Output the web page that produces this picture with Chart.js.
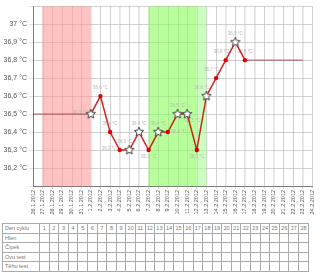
<!DOCTYPE html>
<html>
<head>
<meta charset="utf-8">
<script src="https://cdn.jsdelivr.net/npm/chart.js@4/dist/chart.umd.min.js"></script>
<style>
    body { margin: 0; background: #fff; width: 320px; height: 274px; overflow: hidden; position: relative; }
    #wrap { position: absolute; left: 0; top: 0; width: 320px; height: 220px; }
    table { position: absolute; left: 2px; top: 223px; width: 307px; border-collapse: collapse; font-family: "Liberation Sans", Arial, sans-serif; font-size: 5.5px; color: #777; table-layout: fixed; }
    td { border: 1px solid #aaa; height: 8.5px; padding: 0; overflow: hidden; white-space: nowrap; text-align: center; line-height: 8px; }
    td.name { text-align: left; padding-left: 2px; }
</style>
</head>
<body>
<div id="wrap"><canvas id="TempChart" width="320" height="220"></canvas></div>
<table id="cycle"><colgroup id="cols"></colgroup></table>
<script>
// -------------------------    Data    -------------------------

var dates = ['26.1.2012', '27.1.2012', '28.1.2012', '29.1.2012', '30.1.2012', '31.1.2012',
    '1.2.2012', '2.2.2012', '3.2.2012', '4.2.2012', '5.2.2012', '6.2.2012', '7.2.2012', '8.2.2012',
    '9.2.2012', '10.2.2012', '11.2.2012', '12.2.2012', '13.2.2012', '14.2.2012', '15.2.2012',
    '16.2.2012', '17.2.2012', '18.2.2012', '19.2.2012', '20.2.2012', '21.2.2012', '22.2.2012',
    '23.2.2012', '24.2.2012'];

var temps = [null, null, null, null, null, null,
    36.5, 36.6, 36.4, 36.3, 36.3, 36.4, 36.3, 36.4, 36.4, 36.5, 36.5, 36.3, 36.6, 36.7, 36.8, 36.9, 36.8,
    null, null, null, null, null, null, null];

// true = star marker, false = red dot
var starred = [false, false, false, false, false, false,
    true, false, false, false, true, true, false, true, false, true, true, false, true, false, false, true, false,
    false, false, false, false, false, false, false];

var lowLine = [36.5, 36.5, 36.5, 36.5, 36.5, 36.5, 36.5,
    null, null, null, null, null, null, null, null, null, null, null, null, null, null, null, null,
    null, null, null, null, null, null, null];

var highLine = [null, null, null, null, null, null, null, null, null, null, null, null, null, null, null,
    null, null, null, null, null, null, null,
    36.8, 36.8, 36.8, 36.8, 36.8, 36.8, 36.8, null];

// bands as [from index, to index]
var periodBand = [1, 6];
var fertileBand = [12, 17];
var fertileEndBand = [17, 18];

var cycleRows = ['Den cyklu', 'Hlen', 'Čípek', 'Ovu test', 'Těhu test'];
var cycleDays = 28;

// where the value label sits next to each point
var labelPos = ['t', 't', 't', 't', 't', 't',
    'l', 't', 't', 'l', 'tl', 't', 'b', 't', 'r', 't', 'br', 'b', 'tl', 'tl', 'tl', 't', 't',
    't', 't', 't', 't', 't', 't', 't'];


// -------------------------    Helpers    -------------------------

function fmt(v) {
    return String(Math.round(v * 10) / 10).replace('.', ',') + ' °C';
}

function makeStar(r) {
    var c = document.createElement('canvas');
    c.width = c.height = r * 2 + 2;
    var g = c.getContext('2d');
    g.beginPath();
    for (var i = 0; i < 10; i++) {
        var rr = (i % 2 === 0) ? r : r * 0.45;
        var a = -Math.PI / 2 + i * Math.PI / 5;
        var px = r + 1 + rr * Math.cos(a);
        var py = r + 1 + rr * Math.sin(a);
        if (i === 0) g.moveTo(px, py); else g.lineTo(px, py);
    }
    g.closePath();
    g.fillStyle = '#fff';
    g.fill();
    g.lineWidth = 1;
    g.strokeStyle = '#444';
    g.stroke();
    return c;
}

var starImg = makeStar(5);


// -------------------------    Plugins    -------------------------

var bandsPlugin = {
    id: 'bands',
    beforeDatasetsDraw: function (chart) {
        var ctx = chart.ctx, x = chart.scales.x, area = chart.chartArea;
        var bands = [[periodBand, '#ffc2c2'], [fertileBand, '#b8ff9c'], [fertileEndBand, '#cbffc0']];
        ctx.save();
        bands.forEach(function (b) {
            var x0 = x.getPixelForValue(b[0][0]);
            var x1 = x.getPixelForValue(b[0][1]);
            ctx.fillStyle = b[1];
            ctx.fillRect(x0, area.top, x1 - x0, area.bottom - area.top);
        });
        // redraw grid lines faintly over the bands
        ctx.strokeStyle = 'rgba(0,0,0,0.08)';
        ctx.lineWidth = 1;
        x.ticks.forEach(function (t, i) {
            var px = Math.round(x.getPixelForValue(i)) + 0.5;
            ctx.beginPath();
            ctx.moveTo(px, area.top);
            ctx.lineTo(px, area.bottom);
            ctx.stroke();
        });
        chart.scales.y.ticks.forEach(function (t) {
            var py = Math.round(chart.scales.y.getPixelForValue(t.value)) + 0.5;
            ctx.beginPath();
            ctx.moveTo(area.left, py);
            ctx.lineTo(area.right, py);
            ctx.stroke();
        });

        // value labels
        var meta = chart.getDatasetMeta(0);
        ctx.font = '4.5px "Liberation Sans", Arial, sans-serif';
        ctx.fillStyle = '#b5b5b5';
        ctx.textBaseline = 'middle';
        meta.data.forEach(function (pt, i) {
            if (temps[i] === null) return;
            var p = labelPos[i], tx = pt.x, ty = pt.y;
            ctx.textAlign = 'center';
            if (p === 't') { ty -= 8; }
            else if (p === 'b') { ty += 7; }
            else if (p === 'l') { ctx.textAlign = 'right'; tx -= 3; ty -= 1; }
            else if (p === 'r') { ctx.textAlign = 'left'; tx += 3; }
            else if (p === 'tl') { ctx.textAlign = 'right'; tx += 3; ty -= 8; }
            else if (p === 'br') { ctx.textAlign = 'left'; tx -= 2; ty += 7; }
            ctx.fillText(fmt(temps[i]), tx, ty);
        });
        ctx.restore();
    }
};


// -------------------------    Chart Setup    -------------------------

var ctx = document.getElementById('TempChart').getContext('2d');
var TempChart = new Chart(ctx, {
    type: 'line',
    data: {
        labels: dates,
        datasets: [{
            data: temps,
            borderColor: 'rgba(200, 0, 0, 0.85)',
            borderWidth: 1.5,
            tension: 0,
            pointStyle: starred.map(function (s) { return s ? starImg : 'circle'; }),
            pointRadius: starred.map(function (s) { return s ? 5 : 2.2; }),
            pointBackgroundColor: '#dd0000',
            pointBorderColor: '#dd0000',
            pointBorderWidth: 0,
            spanGaps: false,
        }, {
            data: lowLine,
            borderColor: 'rgba(140, 40, 40, 0.75)',
            borderWidth: 1,
            pointRadius: 0,
        }, {
            data: highLine,
            borderColor: 'rgba(140, 40, 40, 0.75)',
            borderWidth: 1,
            pointRadius: 0,
        }]
    },
    options: {
        responsive: false,
        animation: false,
        layout: { padding: { top: 0, right: 2, left: 0, bottom: 0 } },
        plugins: { legend: { display: false }, tooltip: { enabled: false } },
        scales: {
            x: {
                grid: { color: '#e2e2e2', tickLength: 3 },
                border: { color: '#888' },
                ticks: {
                    autoSkip: false,
                    minRotation: 90,
                    maxRotation: 90,
                    padding: 1,
                    color: '#555',
                    font: { size: 5.5, family: '"Liberation Sans", Arial, sans-serif' }
                },
                afterFit: function (s) { s.height = 34; }
            },
            y: {
                min: 36.1,
                max: 37.1,
                grid: { color: '#e2e2e2', tickLength: 4 },
                border: { color: '#888' },
                ticks: {
                    stepSize: 0.1,
                    padding: 2,
                    color: '#555',
                    font: { size: 7, family: '"Liberation Sans", Arial, sans-serif' },
                    callback: function (v) {
                        var r = Math.round(v * 10) / 10;
                        if (r <= 36.1 || r >= 37.1) return '';
                        return fmt(r);
                    }
                },
                afterFit: function (s) { s.width = 33; }
            }
        }
    },
    plugins: [bandsPlugin]
});


// -------------------------    Cycle table    -------------------------

var table = document.getElementById('cycle');
var cols = document.getElementById('cols');
var firstCol = document.createElement('col');
firstCol.style.width = '37px';
cols.appendChild(firstCol);
for (var c = 0; c < cycleDays; c++) {
    cols.appendChild(document.createElement('col'));
}
cycleRows.forEach(function (name, r) {
    var tr = document.createElement('tr');
    var th = document.createElement('td');
    th.className = 'name';
    th.textContent = name;
    tr.appendChild(th);
    for (var d = 1; d <= cycleDays; d++) {
        var td = document.createElement('td');
        td.textContent = (r === 0) ? d : '';
        tr.appendChild(td);
    }
    table.appendChild(tr);
});
</script>
</body>
</html>
